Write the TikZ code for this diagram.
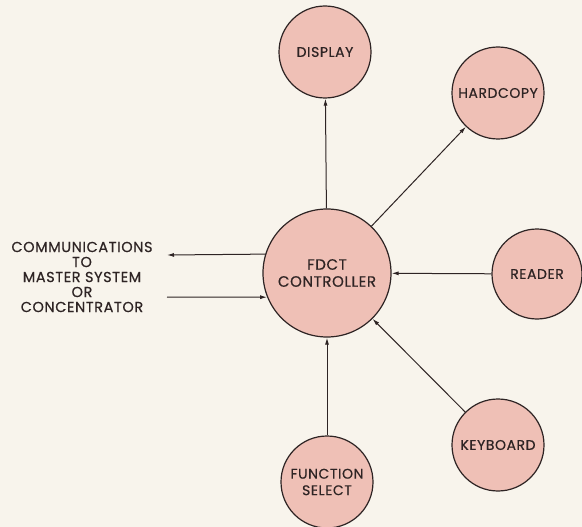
\documentclass[tikz,border=0pt]{standalone}
\usepackage{fontspec}
\setmainfont{Poppins}[FakeBold=0.5,LetterSpace=4]
\usetikzlibrary{arrows.meta}
\definecolor{paper}{HTML}{F8F4EC}
\definecolor{disc}{HTML}{EFC0B6}
\definecolor{ink}{HTML}{2E2424}
\begin{document}
\begin{tikzpicture}[x=1pt,y=-1pt,
  unit/.style={circle, draw=ink, line width=1.2pt, fill=disc, minimum size=92pt,
    inner sep=0pt, align=center, text=ink, font=\fontsize{14}{16.5}\selectfont},
  link/.style={draw=ink, line width=1pt, -{Latex[length=7pt,width=4pt]}},
  caption/.style={text=ink, align=center, font=\fontsize{14.5}{15}\selectfont}]
\fill[paper] (0,0) rectangle (582,527);
\useasboundingbox (0,0) rectangle (582,527);
\node[unit, minimum size=128pt, font=\fontsize{15}{17}\selectfont] (ctrl) at (327,273) {FDCT\\CONTROLLER};
\node[unit] (disp) at (325,52) {DISPLAY};
\node[unit] (hard) at (498,93) {HARDCOPY};
\node[unit, minimum size=90pt] (read) at (537,274) {READER};
\node[unit] (key) at (498,445) {KEYBOARD};
\node[unit] (func) at (327,482) {FUNCTION\\SELECT};
\node[caption] (comm) at (82,277) {COMMUNICATIONS\\TO\\MASTER SYSTEM\\OR\\CONCENTRATOR};
\coordinate (outend) at (167,255);
\coordinate (inend) at (167,297);
\draw[link] (ctrl) -- (disp);
\draw[link] (ctrl) -- (hard);
\draw[link] (read) -- (ctrl);
\draw[link] (key) -- (ctrl);
\draw[link] (func) -- (ctrl);
\draw[link] (ctrl.163.7) -- (outend);
\draw[link] (inend) -- (ctrl.202);
\end{tikzpicture}
\end{document}
